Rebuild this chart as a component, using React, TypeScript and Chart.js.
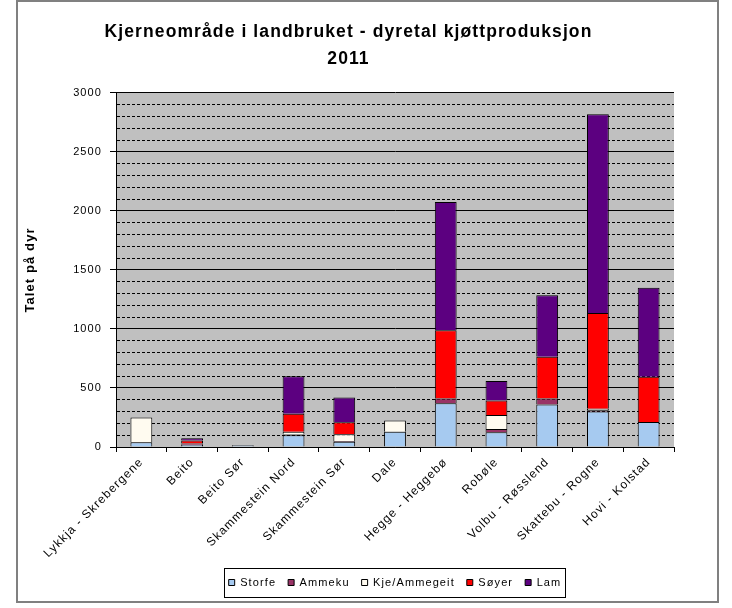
import { useEffect, useRef } from 'react';
import { Chart, registerables } from 'chart.js';

Chart.register(...registerables);

const categories = [
  'Lykkja - Skrebergene',
  'Beito',
  'Beito Sør',
  'Skammestein Nord',
  'Skammestein Sør',
  'Dale',
  'Hegge - Heggebø',
  'Robøle',
  'Volbu - Røsslend',
  'Skattebu - Rogne',
  'Hovi - Kolstad',
];

const storfe = [40, 20, 15, 100, 45, 130, 370, 125, 360, 300, 212];
const ammeku = [0, 10, 0, 5, 5, 0, 40, 27, 50, 12, 0];
const kjeAmmegeit = [210, 0, 0, 25, 57, 95, 0, 120, 0, 13, 0];
const soyer = [0, 25, 0, 152, 103, 0, 580, 123, 355, 810, 383];
const lam = [0, 20, 0, 318, 210, 0, 1085, 165, 520, 1685, 755];

const seriesNames = ['Storfe', 'Ammeku', 'Kje/Ammegeit', 'Søyer', 'Lam'];
const seriesValues = [storfe, ammeku, kjeAmmegeit, soyer, lam];
const seriesColors = ['#a6caf0', '#993366', '#fffbf0', '#ff0000', '#5c0080'];

const yMajorTicks = [0, 500, 1000, 1500, 2000, 2500, 3000];
const yMinorStep = 100;
const yMin = 0;
const yMax = 3000;

const titleLines = ['Kjerneområde i landbruket - dyretal kjøttproduksjon', '2011'];
const yAxisTitle = 'Talet på dyr';

const FONT = "'Liberation Sans', Arial, Helvetica, sans-serif";
const LS = '1.1px';

export default function App() {
  const ref = useRef<HTMLCanvasElement>(null);

  useEffect(() => {
    const canvas = ref.current;
    if (!canvas) return;

    const isMajor = (v: number) => yMajorTicks.includes(v);

    const customPlugin = {
      id: 'customLook',
      beforeLayout(chart: any) {
        chart.ctx.letterSpacing = LS;
      },
      beforeDraw(chart: any) {
        const c = chart.ctx;
        c.letterSpacing = LS;
        const a = chart.chartArea;
        c.save();
        c.fillStyle = '#ffffff';
        c.fillRect(0, 0, chart.width, chart.height);
        c.fillStyle = '#c0c0c0';
        c.fillRect(a.left, a.top, a.right - a.left, a.bottom - a.top);
        c.restore();
      },
      afterDraw(chart: any) {
        const c = chart.ctx;
        c.save();
        // outer frame
        c.strokeStyle = '#808080';
        c.lineWidth = 2;
        c.strokeRect(17, 1, 701, 601);
        // legend frame
        const boxes = chart.legend && chart.legend.legendHitBoxes;
        if (boxes && boxes.length) {
          let minX = Infinity;
          let maxX = -Infinity;
          let cy = 0;
          boxes.forEach((b: any) => {
            minX = Math.min(minX, b.left);
            maxX = Math.max(maxX, b.left + b.width);
            cy = b.top + b.height / 2;
          });
          c.strokeStyle = '#000000';
          c.lineWidth = 1;
          c.strokeRect(Math.round(minX - 5) + 0.5, Math.round(cy - 14.5) + 0.5, Math.round(maxX - minX + 8), 29);
        }
        c.restore();
      },
    };

    const chart = new Chart(canvas, {
      type: 'bar',
      data: {
        labels: categories,
        datasets: seriesNames.map((name, i) => ({
          label: name,
          data: seriesValues[i],
          backgroundColor: seriesColors[i],
          borderColor: '#000000',
          borderWidth: 1,
          borderSkipped: 'start',
          barPercentage: 0.43,
          categoryPercentage: 1,
        })),
      },
      options: {
        responsive: false,
        animation: false,
        devicePixelRatio: 1,
        layout: { padding: { left: 23, right: 58, top: 0, bottom: 10 } },
        plugins: {
          title: {
            display: true,
            text: titleLines,
            color: '#000000',
            font: { family: FONT, size: 17.5, weight: 'bold', lineHeight: 1.57 },
            padding: { top: 18, bottom: 20 },
          },
          legend: {
            display: true,
            position: 'bottom',
            fullSize: false,
            labels: {
              color: '#000000',
              font: { family: FONT, size: 11 },
              boxWidth: 6,
              boxHeight: 6,
              padding: 12,
            },
          },
          tooltip: { enabled: false },
        },
        scales: {
          x: {
            stacked: true,
            afterFit: (scale: any) => {
              scale.height = 118;
            },
            grid: {
              display: true,
              drawOnChartArea: false,
              drawTicks: true,
              tickLength: 5,
              tickColor: '#000000',
              offset: true,
            },
            border: { display: true, color: '#000000', width: 1 },
            ticks: {
              color: '#000000',
              font: { family: FONT, size: 12 },
              minRotation: 45,
              maxRotation: 45,
              autoSkip: false,
              padding: 3,
            },
          },
          y: {
            stacked: true,
            min: yMin,
            max: yMax,
            afterFit: (scale: any) => {
              scale.width = 93;
            },
            title: {
              display: true,
              text: yAxisTitle,
              color: '#000000',
              font: { family: FONT, size: 13, weight: 'bold', lineHeight: 1.2 },
              padding: { top: 0, bottom: 0 },
            },
            ticks: {
              stepSize: yMinorStep,
              autoSkip: false,
              color: '#000000',
              font: { family: FONT, size: 11 },
              padding: 8,
              callback: (v: any) => (isMajor(Number(v)) ? String(v) : ''),
            },
            grid: {
              color: '#000000',
              lineWidth: 1,
              tickLength: 6,
              tickColor: (ctx: any) => (ctx.tick && isMajor(ctx.tick.value) ? '#000000' : 'rgba(0,0,0,0)'),
            },
            border: {
              display: true,
              color: '#000000',
              width: 1,
              dash: (ctx: any) => (ctx.tick && !isMajor(ctx.tick.value) ? [3, 2] : []),
            },
          },
        },
      },
      plugins: [customPlugin],
    } as any);

    return () => {
      chart.destroy();
    };
  }, []);

  return (
    <div style={{ position: 'fixed', left: 0, top: 0, width: 732, height: 608, background: '#fff' }}>
      <canvas ref={ref} width={732} height={608} style={{ display: 'block', width: 732, height: 608 }} />
    </div>
  );
}
